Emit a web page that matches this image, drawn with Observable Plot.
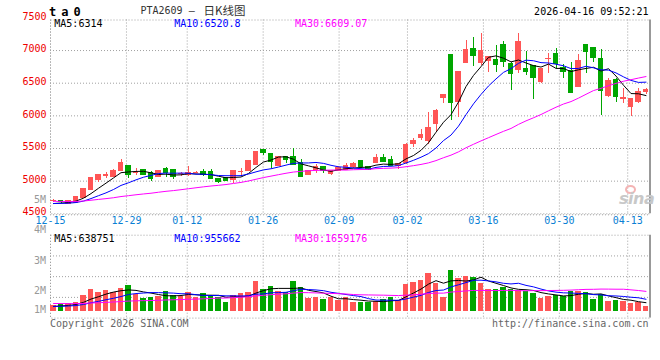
<!DOCTYPE html>
<html><head><meta charset="utf-8">
<script src="https://cdn.jsdelivr.net/npm/d3@7"></script>
<script src="https://cdn.jsdelivr.net/npm/@observablehq/plot@0.6"></script>
<style>
html,body{margin:0;padding:0;background:#fff;}
#wrap{position:relative;width:660px;height:360px;overflow:hidden;font-family:"DejaVu Sans Mono",monospace;font-size:10px;background:#fff;}
#wrap svg{position:absolute;left:0;top:0;}
.t{position:absolute;white-space:nowrap;line-height:10px;transform:translateY(-50%);}
.r{transform:translate(-100%,-50%);}
</style></head><body><div id="wrap"></div>
<script>
// ---------- data ----------
const dates = ["12-15","12-16","12-17","12-18","12-19","12-22","12-23","12-24","12-25","12-26",
"12-29","12-30","12-31","01-05","01-06","01-07","01-08","01-09","01-12","01-13",
"01-14","01-15","01-16","01-19","01-20","01-21","01-22","01-23","01-26","01-27",
"01-28","01-29","01-30","02-02","02-03","02-04","02-05","02-06","02-09","02-10",
"02-11","02-12","02-13","02-24","02-25","02-26","02-27","03-02","03-03","03-04",
"03-05","03-06","03-09","03-10","03-11","03-12","03-13","03-16","03-17","03-18",
"03-19","03-20","03-23","03-24","03-25","03-26","03-27","03-30","03-31","04-01",
"04-02","04-03","04-07","04-08","04-09","04-10","04-13","04-14","04-15","04-16"];
const open = [4690,4690,4650,4665,4740,4872,5025,5085,5071,5163,
5224,5125,5163,5122,5061,5178,5163,5110,5102,5125,
5138,5138,5036,5051,5020,5135,5163,5255,5469,5408,
5240,5367,5367,5280,5102,5173,5214,5112,5163,5173,
5214,5306,5214,5280,5352,5316,5240,5275,5571,5663,
5612,5877,6270,6923,6209,6805,7025,6805,6836,6861,
7076,6785,6708,6718,6760,6525,6866,6948,6730,6683,
6438,7076,7040,6872,6311,6550,6265,6142,6219,6362];
const high = [4714,4700,4700,4765,4888,5050,5090,5138,5178,5336,
5245,5189,5170,5153,5160,5214,5173,5130,5224,5145,
5173,5173,5040,5060,5153,5199,5316,5454,5475,5428,
5377,5382,5505,5326,5163,5255,5224,5160,5224,5265,
5290,5316,5230,5408,5408,5382,5275,5571,5648,5785,
6056,6091,6320,6930,6675,7152,7203,7254,6915,7076,
7142,6820,7254,6989,6770,6715,6948,7025,6780,6820,
6938,7080,7045,7010,6566,6566,6413,6255,6413,6423];
const low = [4670,4660,4640,4660,4735,4865,4985,5036,5065,5160,
5036,5087,5090,5000,5055,5061,5025,5071,5071,5110,
5071,5030,4959,4995,4969,5076,5155,5250,5393,5199,
5235,5265,5245,5061,5090,5122,5122,5087,5150,5160,
5200,5200,5160,5270,5290,5230,5173,5255,5520,5622,
5561,5750,6193,5928,5979,6800,6760,6770,6668,6668,
6745,6387,6642,6617,6255,6490,6653,6720,6576,6340,
6430,6653,6820,6005,6275,6209,6193,5994,6183,6326];
const close = [4695,4680,4694,4755,4872,5046,5087,5087,5153,5275,
5102,5127,5097,5036,5153,5122,5061,5112,5127,5127,
5102,5036,4985,5010,5148,5138,5306,5444,5428,5301,
5367,5326,5255,5071,5153,5214,5163,5148,5199,5224,
5265,5214,5173,5352,5301,5240,5265,5546,5612,5699,
5816,6071,6311,6193,6668,7000,6923,6984,6907,6780,
6820,6642,7127,6680,6576,6710,6872,6795,6668,6346,
6846,6974,6887,6377,6525,6285,6270,6249,6362,6387];
const volume = [424000,556500,609500,689000,1245500,1722500,1484000,1643000,1510500,1775500,
2040500,1298500,1033500,1060000,1192500,1563500,1245500,1166000,1484000,1060000,
1404500,1245500,1113000,715500,1245500,1404500,1484000,2358500,1696000,1961000,
1563500,1484000,2358500,1881500,1033500,1060000,927500,1060000,848000,1060000,
715500,689000,715500,768500,901000,1060000,848000,2120000,2305500,2464500,
3021000,2226000,1113000,3233000,2623500,2782500,2676500,2199500,1722500,1722500,
1881500,1722500,1643000,1563500,1431000,1033500,1192500,1245500,1166000,1563500,
1563500,1510500,927500,1298500,795000,848000,795000,636000,715500,397500];
// sessions before the visible window (estimated from where the MA lines start)
const priorCloses = [4720,4735,4710,4700,4690,4705,4730,4745,4725,4700,4715,4720,4700,4690,4710,
4725,4700,4690,4680,4670,4660,4665,4655,4650,4660,4645,4655,4640,4650];
const priorVolumes = [780000,650000,820000,700000,690000,910000,760000,640000,720000,850000,
700000,620000,780000,690000,740000,810000,660000,700000,730000,680000,
420000,380000,350000,400000,330000,360000,390000,340000,380000];
const maPeriods = [5, 10, 30];
const priceTicks = [4500, 5000, 5500, 6000, 6500, 7000, 7500];
const dateTicks = ["12-15","12-29","01-12","01-26","02-09","03-02","03-16","03-30","04-13"];
const volTickLabels = ["5M","4M","3M","2M","1M"];
const priceMaLabels = ["MA5:6314","MA10:6520.8","MA30:6609.07"];
const volMaLabels = ["MA5:638751","MA10:955662","MA30:1659176"];
const titleCode = "PTA2609 –";
const titleName = "日K线图";
const symbolText = "ta0";
const stamp = "2026-04-16 09:52:21";
const copyright = "Copyright 2026 SINA.COM";
const site = "http://finance.sina.com.cn";

// ---------- styles ----------
const RED = "#ff5555", GREEN = "#00a600";
const MA_COLORS = ["#000000", "#0000ff", "#ff00ff"];
const GRID = "#a0a0a0";
const W = 660, H = 360;

// ---------- derived ----------
function movingAvg(series, prior, n) {
  const all = prior.concat(series);
  return series.map((_, i) => d3.mean(all.slice(i + prior.length - n + 1, i + prior.length + 1)));
}
const N = dates.length;
const pMA = maPeriods.map(n => movingAvg(close, priorCloses, n));
const vMA = maPeriods.map(n => movingAvg(volume, priorVolumes, n));
const rows = dates.map((d, i) => ({
  i, d, o: open[i], h: high[i], l: low[i], c: close[i], v: volume[i],
  up: close[i] >= open[i],
  pma: pMA.map(a => a[i]), vma: vMA.map(a => a[i])
}));
const xDomain = [-0.4, N - 0.4];
// Sina spaces its date grid over N-1 steps across the full frame
const gridX = k => xDomain[0] + k * (xDomain[1] - xDomain[0]) / (N - 1);
const tickRows = dateTicks.map(label => ({label, gx: gridX(dates.indexOf(label))}));
const half = 0.38;

const baseStyle = {fontFamily: "DejaVu Sans Mono, monospace", fontSize: "10px", overflow: "visible", background: "transparent"};

// ---------- price panel ----------
const pTop = 19.5, pBottom = 213.3;
const price = Plot.plot({
  width: W, height: H, marginLeft: 50, marginRight: 10, marginTop: pTop, marginBottom: H - pBottom,
  x: {domain: xDomain, axis: null},
  y: {domain: [4500, 7500], range: [213.3, 17.4], axis: null},
  style: baseStyle,
  marks: [
    Plot.ruleY(priceTicks.filter(t => t > 4500 && t < 7500), {stroke: GRID, strokeDasharray: "1,2"}),
    Plot.ruleX(tickRows, {x: "gx", stroke: GRID, strokeDasharray: "1,2"}),
    Plot.frame({stroke: GRID, strokeDasharray: "1,2"}),
    Plot.ruleY([4500], {stroke: GRID, strokeDasharray: "1,2", dy: 1}),
    Plot.ruleX([xDomain[1]], {stroke: "#999", strokeWidth: 2, dx: -0.5}),
    Plot.ruleX(rows.filter(r => r.up), {x: "i", y1: "l", y2: "h", stroke: RED, shapeRendering: "crispEdges"}),
    Plot.ruleX(rows.filter(r => !r.up), {x: "i", y1: "l", y2: "h", stroke: GREEN, shapeRendering: "crispEdges"}),
    Plot.rect(rows.filter(r => r.up), {x1: r => r.i - half, x2: r => r.i + half, y1: r => Math.min(r.o, r.c), y2: r => Math.max(r.o, r.c), fill: RED, insetTop: -0.6, insetBottom: -0.6, shapeRendering: "crispEdges"}),
    Plot.rect(rows.filter(r => !r.up), {x1: r => r.i - half, x2: r => r.i + half, y1: r => Math.min(r.o, r.c), y2: r => Math.max(r.o, r.c), fill: GREEN, insetTop: -0.6, insetBottom: -0.6, shapeRendering: "crispEdges"}),
    ...maPeriods.map((n, k) => Plot.line(rows, {x: "i", y: r => r.pma[k], stroke: MA_COLORS[k], strokeWidth: 1})),
    Plot.text(priceTicks.filter(t => t > 4500), {y: t => t, text: t => String(t), frameAnchor: "left", textAnchor: "end", dx: -4, dy: -1.5, fill: "#ee0000"}),
    Plot.text(priceTicks.filter(t => t === 4500), {y: t => t, text: t => String(t), frameAnchor: "left", textAnchor: "end", dx: -4, dy: -2.2, fill: "#ee0000"}),
    Plot.text(tickRows, {x: "gx", text: "label", frameAnchor: "bottom", dy: 9.8, fill: "#0a7fd4"})
  ]
});

// ---------- volume panel ----------
const vTop = 234.7, vBottom = 317.6;
const volDomain = [0, 6e6], volRange = [310.7, 310.7 - 6e6 / 79500];
const volScale = d3.scaleLinear(volDomain, volRange);
const volGrid = [1, 2, 3].map(k => volScale.invert(vTop + k * (vBottom - vTop) / 4));
const vol = Plot.plot({
  width: W, height: H, marginLeft: 50, marginRight: 10, marginTop: vTop, marginBottom: H - vBottom,
  x: {domain: xDomain, axis: null},
  y: {domain: volDomain, range: volRange, axis: null},
  style: baseStyle,
  marks: [
    Plot.ruleY(volGrid, {stroke: GRID, strokeDasharray: "1,2"}),
    Plot.ruleX(tickRows, {x: "gx", stroke: GRID, strokeDasharray: "1,2"}),
    Plot.frame({stroke: GRID, strokeDasharray: "1,2"}),
    Plot.ruleX([xDomain[1]], {stroke: "#999", strokeWidth: 2, dx: -0.5}),
    Plot.rect(rows.filter(r => r.up), {x1: r => r.i - half, x2: r => r.i + half, y1: 0, y2: "v", fill: RED, shapeRendering: "crispEdges"}),
    Plot.rect(rows.filter(r => !r.up), {x1: r => r.i - half, x2: r => r.i + half, y1: 0, y2: "v", fill: GREEN, shapeRendering: "crispEdges"}),
    ...maPeriods.map((n, k) => Plot.line(rows, {x: "i", y: r => r.vma[k], stroke: MA_COLORS[k], strokeWidth: 1}))
  ]
});

const wrap = document.getElementById("wrap");
wrap.appendChild(price);
wrap.appendChild(vol);

// ---------- text furniture ----------
function txt(s, x, y, css, right) {
  const el = document.createElement("div");
  el.className = "t" + (right ? " r" : "");
  el.textContent = s;
  el.style.left = x + "px";
  el.style.top = y + "px";
  Object.assign(el.style, css || {});
  wrap.appendChild(el);
  return el;
}
txt(symbolText, 49, 11.5, {fontWeight: "bold", fontSize: "12px", letterSpacing: "5px", lineHeight: "12px", color: "#000"});
txt(titleCode, 140.5, 10.8, {color: "#333"});
txt(titleName, 203.5, 9.8, {fontFamily: "'Noto Sans CJK SC', sans-serif", fontSize: "11.5px", lineHeight: "12px", color: "#333"});
txt(stamp, 648.5, 11.7, {color: "#000"}, true);
const legendX = [54.3, 174.3, 295];
priceMaLabels.forEach((s, k) => txt(s, legendX[k], 24.4, {color: MA_COLORS[k]}));
volMaLabels.forEach((s, k) => txt(s, legendX[k], 238.9, {color: MA_COLORS[k]}));
// Sina's volume labels: ~30px per label, the last one pinned above the bottom border
const volLabelY = d3.scaleLinear([0, 3], [200.2, 291]);
volTickLabels.forEach((s, k) => txt(s, 46, Math.min(volLabelY(k), 310), {color: "#999"}, true));
txt(copyright, 50, 323.8, {color: "#666"});
txt(site, 648.5, 323.8, {color: "#666"}, true);
// watermark
const eye = document.createElement("div");
Object.assign(eye.style, {position: "absolute", left: "625px", top: "185px", width: "11px", height: "9px", borderRadius: "50%", border: "2px solid #f4b4b4", boxSizing: "border-box"});
wrap.appendChild(eye);
txt("sina", 619, 199, {fontFamily: "'DejaVu Sans', sans-serif", fontStyle: "italic", fontWeight: "bold", fontSize: "16px", lineHeight: "16px", color: "#c8c8c8", letterSpacing: "-0.5px"});
</script></body></html>
